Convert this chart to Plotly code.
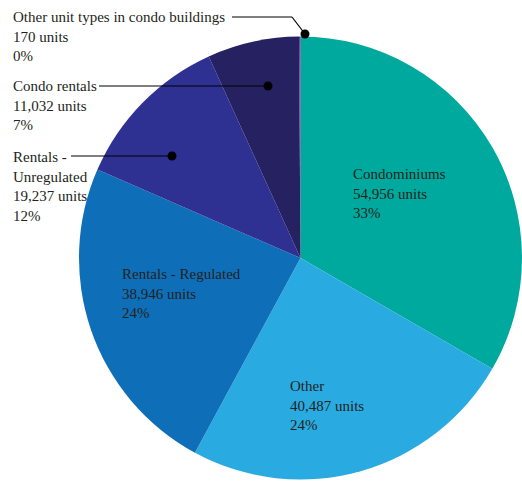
import plotly.graph_objects as go

# Housing units by type
categories = [
    "Condominiums",
    "Other",
    "Rentals - Regulated",
    "Rentals - Unregulated",
    "Condo rentals",
    "Other unit types in condo buildings",
]
units = [54956, 40487, 38946, 19237, 11032, 170]
pct_labels = ["33%", "24%", "24%", "12%", "7%", "0%"]
display_names = [
    "Condominiums",
    "Other",
    "Rentals - Regulated",
    "Rentals -<br>Unregulated",
    "Condo rentals",
    "Other unit types in condo buildings",
]
colors = ["#00A99D", "#29ABE2", "#0E6FB8", "#2E3192", "#262262", "#662D91"]

W, H = 522, 481
TEXT = "#231F20"
FONT = "Liberation Serif, Times New Roman, serif"

fig = go.Figure(
    go.Pie(
        labels=categories,
        values=units,
        sort=False,
        direction="clockwise",
        rotation=0,
        marker=dict(colors=colors, line=dict(width=0)),
        textinfo="none",
        hoverinfo="label+value+percent",
        domain=dict(x=[79 / W, 1.0], y=[1 / H, 1 - 36 / H]),
        showlegend=False,
    )
)

# label anchor (left x, top y) in pixels, per category
label_pos = [(352, 165), (289, 377), (121, 265), (12, 148), (12, 77), (12, 8)]

def px(x):
    return x / W

def py(y):
    return 1 - y / H

annotations = []
for name, u, p, (lx, ly) in zip(display_names, units, pct_labels, label_pos):
    annotations.append(
        dict(
            x=px(lx), y=py(ly), xref="paper", yref="paper",
            xanchor="left", yanchor="top", align="left",
            showarrow=False, borderpad=0,
            text=f"{name}<br>{u:,} units<br>{p}",
            font=dict(family=FONT, size=15, color=TEXT),
        )
    )

# leader lines with dots for the small slices
leaders = [
    [(232, 17), (292, 17), (305, 34)],
    [(99, 86), (268, 86)],
    [(71, 156), (172, 156)],
]
shapes = []
for pts in leaders:
    for (x0, y0), (x1, y1) in zip(pts[:-1], pts[1:]):
        shapes.append(dict(type="line", xref="paper", yref="paper",
                           x0=px(x0), y0=py(y0), x1=px(x1), y1=py(y1),
                           line=dict(color="#000000", width=1.2)))
    ex, ey = pts[-1]
    r = 4.5
    shapes.append(dict(type="circle", xref="paper", yref="paper",
                       x0=px(ex - r), x1=px(ex + r), y0=py(ey + r), y1=py(ey - r),
                       fillcolor="#000000", line=dict(width=0)))

fig.update_layout(
    width=W, height=H,
    margin=dict(l=0, r=0, t=0, b=0),
    paper_bgcolor="white",
    plot_bgcolor="white",
    annotations=annotations,
    shapes=shapes,
)

fig.write_html("out.html")
